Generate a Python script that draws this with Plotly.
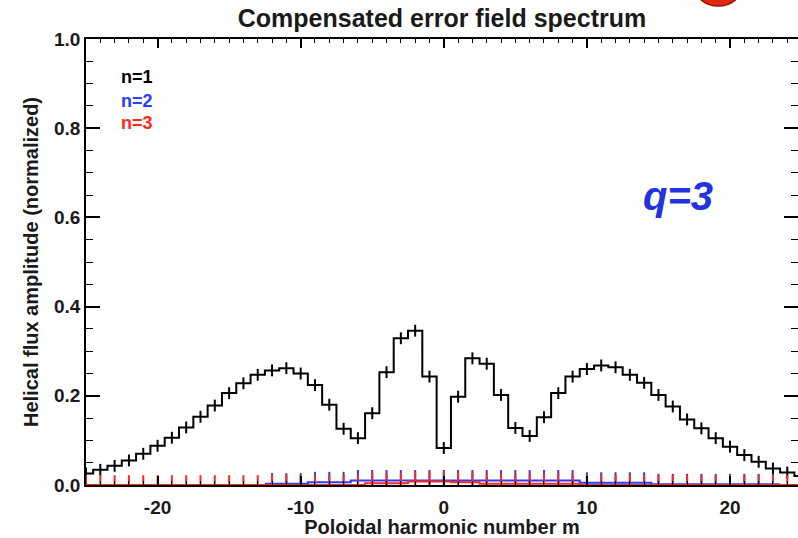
import plotly.graph_objects as go

# ---------------- data ----------------
m_n1 = list(range(-25, 26))
amp_n1 = [0.026, 0.034, 0.043, 0.055, 0.070, 0.088, 0.106, 0.129, 0.153, 0.178,
          0.206, 0.228, 0.247, 0.257, 0.262, 0.250, 0.224, 0.180, 0.126, 0.105,
          0.161, 0.253, 0.329, 0.346, 0.243, 0.083, 0.198, 0.284, 0.272, 0.202,
          0.128, 0.110, 0.152, 0.206, 0.243, 0.260, 0.268, 0.264, 0.247, 0.229,
          0.202, 0.176, 0.147, 0.127, 0.105, 0.086, 0.067, 0.052, 0.037, 0.028,
          0.020]

m_n2 = list(range(-12, 24))
amp_n2 = [0.003, 0.003, 0.003, 0.006, 0.006, 0.006,
          0.010, 0.010, 0.010, 0.010, 0.010, 0.010, 0.010, 0.010, 0.010, 0.010,
          0.010, 0.010, 0.010, 0.010, 0.010, 0.010,
          0.005, 0.005, 0.005, 0.005, 0.005,
          0.0015, 0.0015, 0.0015, 0.0015, 0.0015, 0.0015, 0.0015, 0.0015, 0.0015]

m_n3 = list(range(-25, 26))
amp_n3 = [0.0] * 20 + [0.004, 0.004, 0.004, 0.008, 0.008, 0.008, 0.006, 0.006,
                       0.003, 0.003, 0.003, 0.003, 0.003, 0.003, 0.003] + [0.0] * 16

x_tickvals = [-20, -10, 0, 10, 20]
x_ticktext = ["-20", "-10", "0", "10", "20"]
y_tickvals = [0.0, 0.2, 0.4, 0.6, 0.8, 1.0]
y_ticktext = ["0.0", "0.2", "0.4", "0.6", "0.8", "1.0"]

legend_labels = ["n=1", "n=2", "n=3"]
colors = ["#000000", "#2a3cff", "#ff2a1a"]

title_text = "Compensated error field spectrum"
x_title = "Poloidal harmonic number m"
y_title = "Helical flux amplitude (normalized)"
note_text = "q=3"

FONT = "Liberation Sans, Arial, sans-serif"
TXT = "#1a1a1a"


def step_xy(ms, vals):
    """Histogram-style steps: each value spans m-0.5 .. m+0.5."""
    xs = [m - 0.5 for m in ms] + [ms[-1] + 0.5]
    ys = list(vals) + [vals[-1]]
    return xs, ys


fig = go.Figure()
series = [(m_n1, amp_n1, 8.5), (m_n2, amp_n2, 15), (m_n3, amp_n3, 14)]
for (ms, vals, msize), col in zip(series, colors):
    xs, ys = step_xy(ms, vals)
    fig.add_trace(go.Scatter(x=xs, y=ys, mode="lines", line_shape="hv",
                             line=dict(color=col, width=2), showlegend=False,
                             hoverinfo="skip"))
    fig.add_trace(go.Scatter(x=ms, y=vals, mode="markers", showlegend=False,
                             marker=dict(symbol="line-ns", size=msize,
                                         line=dict(color=col, width=2))))

# dummy trace to activate right-side tick axis
fig.add_trace(go.Scatter(x=[], y=[], yaxis="y2", showlegend=False))

tickfont = dict(family=FONT, size=19, color=TXT, weight="bold")

fig.update_layout(
    width=798, height=538,
    margin=dict(l=86, r=0, t=39, b=53),
    paper_bgcolor="white", plot_bgcolor="white",
    title=dict(text=title_text, x=0.5, xref="paper", xanchor="center",
               y=1 - 18 / 538, yanchor="middle",
               font=dict(family=FONT, size=25, color=TXT, weight="bold")),
    xaxis=dict(range=[-25, 24.75], showgrid=False, zeroline=False,
               showline=True, linecolor="black", linewidth=1.5, mirror="ticks",
               ticks="inside", ticklen=9, tickwidth=1.5, tickcolor="black",
               tickmode="array", tickvals=x_tickvals, ticktext=x_ticktext,
               tickfont=tickfont, ticklabelstandoff=4,
               minor=dict(ticks="inside", ticklen=4.5, tickwidth=1.2,
                          tickcolor="black", tickmode="linear", tick0=0, dtick=1),
               title=dict(text=x_title, standoff=2,
                          font=dict(family=FONT, size=20, color=TXT,
                                    weight="bold"))),
    yaxis=dict(range=[0, 1], showgrid=False, zeroline=False,
               showline=True, linecolor="black", linewidth=1.5,
               ticks="inside", ticklen=14, tickwidth=1.5, tickcolor="black",
               tickmode="array", tickvals=y_tickvals, ticktext=y_ticktext,
               tickfont=tickfont,
               minor=dict(ticks="inside", ticklen=7, tickwidth=1.2,
                          tickcolor="black", tickmode="linear", tick0=0,
                          dtick=0.05),
               title=dict(text=y_title, standoff=10,
                          font=dict(family=FONT, size=20, color=TXT,
                                    weight="bold"))),
    yaxis2=dict(range=[0, 1], overlaying="y", side="right", showgrid=False,
                zeroline=False, showline=False, showticklabels=False,
                ticks="inside", ticklen=14, tickwidth=1.5, tickcolor="black",
                tickmode="array", tickvals=y_tickvals,
                minor=dict(ticks="inside", ticklen=7, tickwidth=1.2,
                           tickcolor="black", tickmode="linear", tick0=0,
                           dtick=0.05)),
)

legend_y = [0.914, 0.862, 0.812]
for lab, col, yy in zip(legend_labels, colors, legend_y):
    fig.add_annotation(text=lab, xref="paper", yref="paper", x=0.047, y=yy,
                       xanchor="left", yanchor="middle", showarrow=False,
                       font=dict(family=FONT, size=18, color=col, weight="bold"))

fig.add_annotation(text=note_text, xref="paper", yref="paper", x=0.831, y=0.648,
                   xanchor="center", yanchor="middle", showarrow=False,
                   font=dict(family=FONT, size=40, color="#2233dd",
                             weight="bold", style="italic"))

# cropped red logo at top edge
fig.add_shape(type="circle", xref="paper", yref="paper",
              x0=0.855, x1=0.921, y0=1.074, y1=1.16,
              fillcolor="#e02814", line=dict(color="#a01000", width=1.5),
              layer="above")

fig.write_html("out.html")
